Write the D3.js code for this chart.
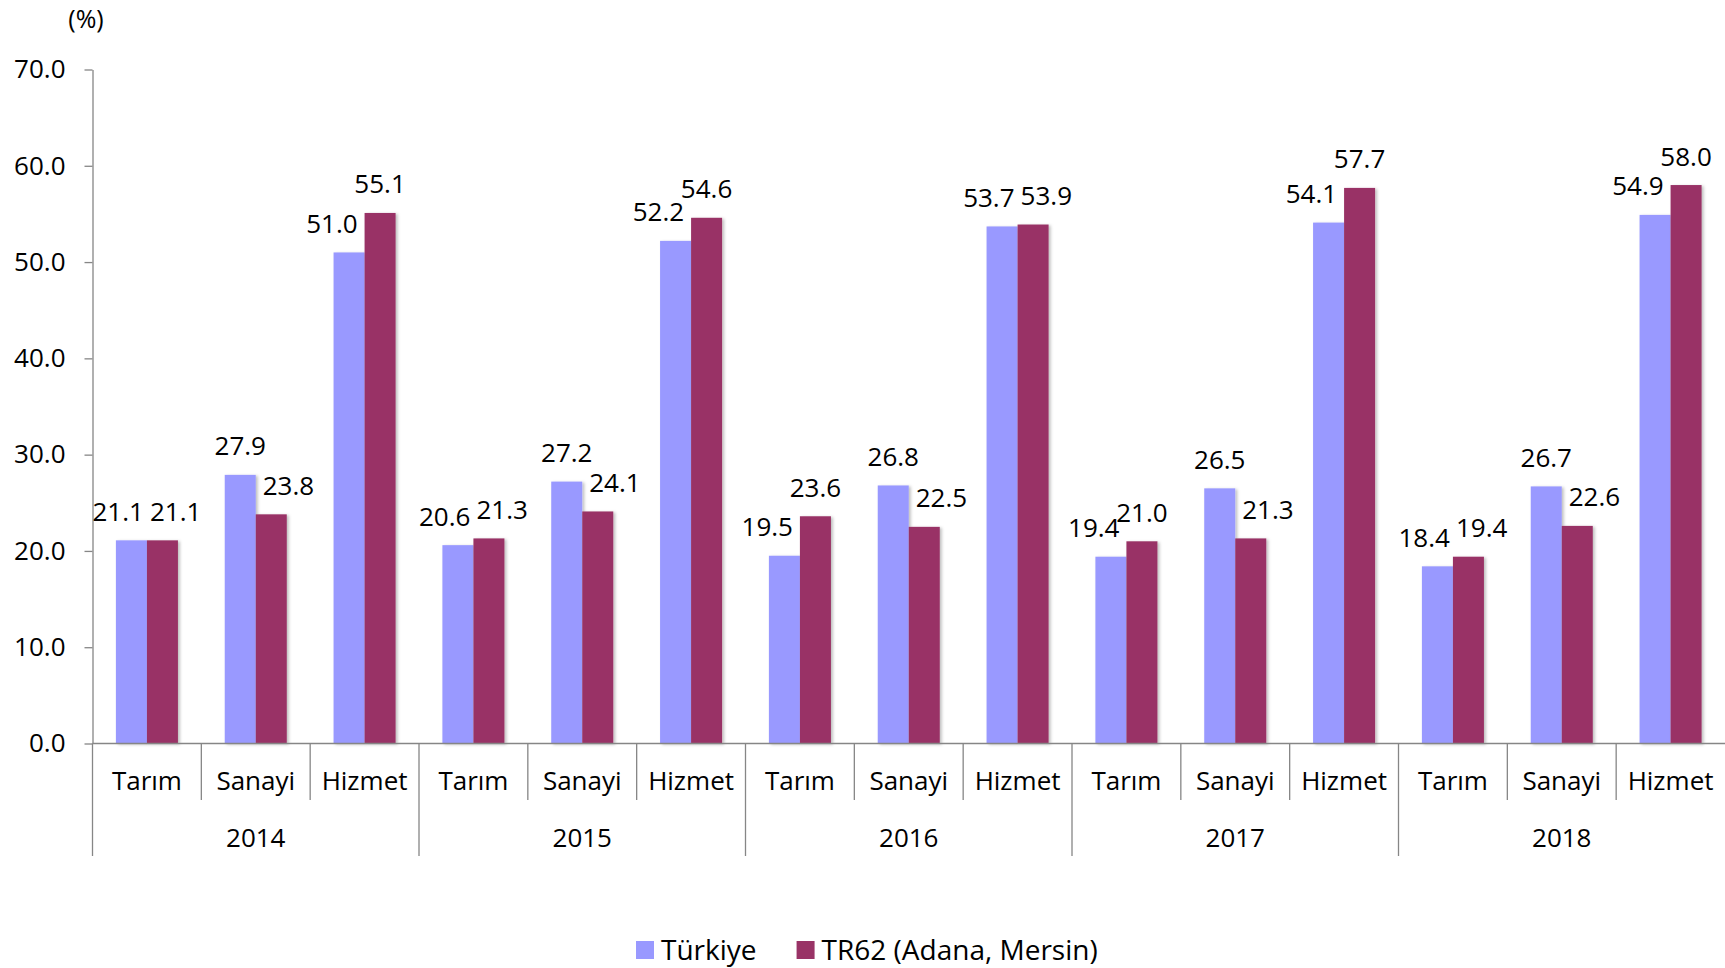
<!DOCTYPE html>
<html>
<head>
<meta charset="utf-8">
<script src="https://cdn.jsdelivr.net/npm/d3@7"></script>
<style>
  html, body { margin: 0; padding: 0; background: #fff; }
  svg text { font-family: 'Open Sans', 'Noto Sans', sans-serif; fill: #000; }
</style>
</head>
<body>
<svg id="chart" width="1725" height="968"></svg>
<script>
// chart data
var years = ['2014', '2015', '2016', '2017', '2018']
var sectors = ['Tarım', 'Sanayi', 'Hizmet']
var seriesNames = ['Türkiye', 'TR62 (Adana, Mersin)']
var turkiyeValues = [21.1, 27.9, 51.0, 20.6, 27.2, 52.2, 19.5, 26.8, 53.7, 19.4, 26.5, 54.1, 18.4, 26.7, 54.9]
var tr62Values = [21.1, 23.8, 55.1, 21.3, 24.1, 54.6, 23.6, 22.5, 53.9, 21.0, 21.3, 57.7, 19.4, 22.6, 58.0]
var yTicks = [0, 10, 20, 30, 40, 50, 60, 70]
var colors = ['#9999ff', '#993366']
var axisColor = '#868686'

var svg = d3.select('#chart')
var margin = { top: 69.5, left: 92.5, right: 0, bottom: 743.5 }
var fontSize = '26px'

// one category per year / sector pair
var categories = []
years.forEach(function (y) {
  sectors.forEach(function (s) {
    categories.push(y + '|' + s)
  })
})
var rows = categories.map(function (c, i) {
  return { key: c, year: c.split('|')[0], sector: c.split('|')[1], values: [turkiyeValues[i], tr62Values[i]] }
})

var x0 = d3.scaleBand().domain(categories).range([margin.left, 1725]).paddingInner(0).paddingOuter(0)
var bw = x0.bandwidth()
var x1 = d3.scaleBand().domain(seriesNames).range([bw * 0.215, bw * 0.785]).padding(0)
var y = d3.scaleLinear().domain([0, 70]).range([margin.bottom, margin.top])

// soft shadow like the office chart
var defs = svg.append('defs')
var f = defs.append('filter').attr('id', 'shadow').attr('x', '-20%').attr('y', '-5%').attr('width', '150%').attr('height', '115%')
f.append('feDropShadow').attr('dx', 2).attr('dy', 1).attr('stdDeviation', 1.5)
  .attr('flood-color', '#000').attr('flood-opacity', 0.25)

// bars
var groups = svg.append('g').attr('class', 'bars')
  .selectAll('g')
  .data(rows)
  .enter()
  .append('g')
  .attr('transform', function (d) { return 'translate(' + x0(d.key) + ',0)' })
groups.selectAll('rect')
  .data(function (d) {
    return d.values.map(function (v, i) { return { series: seriesNames[i], value: v, index: i } })
  })
  .enter()
  .append('rect')
  .attr('x', function (d) { return x1(d.series) })
  .attr('y', function (d) { return y(d.value) })
  .attr('width', x1.bandwidth())
  .attr('height', function (d) { return y(0) - y(d.value) })
  .attr('fill', function (d) { return colors[d.index] })
  .attr('filter', 'url(#shadow)')

// y axis
var yAxis = d3.axisLeft(y).tickValues(yTicks).tickFormat(d3.format('.1f')).tickSizeInner(8).tickSizeOuter(0).tickPadding(19)
var yG = svg.append('g').attr('transform', 'translate(' + margin.left + ',0)').call(yAxis)
yG.select('.domain').attr('stroke', axisColor).attr('stroke-width', 1.3)
yG.selectAll('.tick line').attr('stroke', axisColor).attr('stroke-width', 1.3)
yG.selectAll('.tick text').style('font-size', fontSize).attr('fill', '#000')

svg.append('text')
  .attr('x', 86)
  .attr('y', 19)
  .attr('dy', '0.35em')
  .attr('text-anchor', 'middle')
  .style('font-size', '25px')
  .text('(%)')

// x axis baseline
svg.append('line')
  .attr('x1', margin.left).attr('x2', 1725)
  .attr('y1', y(0)).attr('y2', y(0))
  .attr('stroke', axisColor).attr('stroke-width', 1.6)

// category separators
var xAxisG = svg.append('g').attr('class', 'x-axis')
categories.forEach(function (c, i) {
  var xPos = x0(c)
  var isYearEdge = i % sectors.length === 0
  xAxisG.append('line')
    .attr('x1', xPos).attr('x2', xPos)
    .attr('y1', y(0)).attr('y2', isYearEdge ? 856 : 800)
    .attr('stroke', axisColor).attr('stroke-width', 1.3)
})
xAxisG.selectAll('.cat-label')
  .data(rows)
  .enter()
  .append('text')
  .attr('class', 'cat-label')
  .attr('x', function (d) { return x0(d.key) + bw / 2 })
  .attr('y', 781)
  .attr('dy', '0.35em')
  .attr('text-anchor', 'middle')
  .style('font-size', fontSize)
  .text(function (d) { return d.sector })
xAxisG.selectAll('.year-label')
  .data(years)
  .enter()
  .append('text')
  .attr('class', 'year-label')
  .attr('x', function (d) { return x0(d + '|' + sectors[0]) + bw * sectors.length / 2 })
  .attr('y', 838)
  .attr('dy', '0.35em')
  .attr('text-anchor', 'middle')
  .style('font-size', fontSize)
  .text(function (d) { return d })

// data labels, pushed apart when a pair would collide
var labelG = svg.append('g').attr('class', 'labels')
rows.forEach(function (d) {
  var labels = d.values.map(function (v, i) {
    var t = labelG.append('text')
      .attr('text-anchor', 'middle')
      .style('font-size', fontSize)
      .text(d3.format('.1f')(v))
    return {
      node: t,
      cx: x0(d.key) + x1(seriesNames[i]) + x1.bandwidth() / 2,
      top: y(v),
      w: t.node().getComputedTextLength()
    }
  })
  var a = labels[0]
  var b = labels[1]
  var dy = Math.abs(a.top - b.top)
  var deficit = (a.w + b.w) / 2 + 6 - (b.cx - a.cx)
  if (dy < 52 && deficit > 0) {
    if (dy < 12) {
      a.cx -= deficit / 2
      b.cx += deficit / 2
    } else if (a.top > b.top) {
      a.cx -= deficit * 0.65
    } else {
      b.cx += deficit * 0.65
    }
  }
  labels.forEach(function (l) {
    l.node.attr('x', l.cx).attr('y', l.top - 28.6).attr('dy', '0.35em')
  })
})

// legend
var legend = svg.append('g').attr('class', 'legend')
var lx = 636
seriesNames.forEach(function (name, i) {
  legend.append('rect')
    .attr('x', lx).attr('y', 941)
    .attr('width', 18).attr('height', 18)
    .attr('fill', colors[i])
  var t = legend.append('text')
    .attr('x', lx + 25)
    .attr('y', 950)
    .attr('dy', '0.35em')
    .style('font-size', '28px')
    .text(name)
  lx = lx + 25 + t.node().getComputedTextLength() + 40
})
</script>
</body>
</html>
